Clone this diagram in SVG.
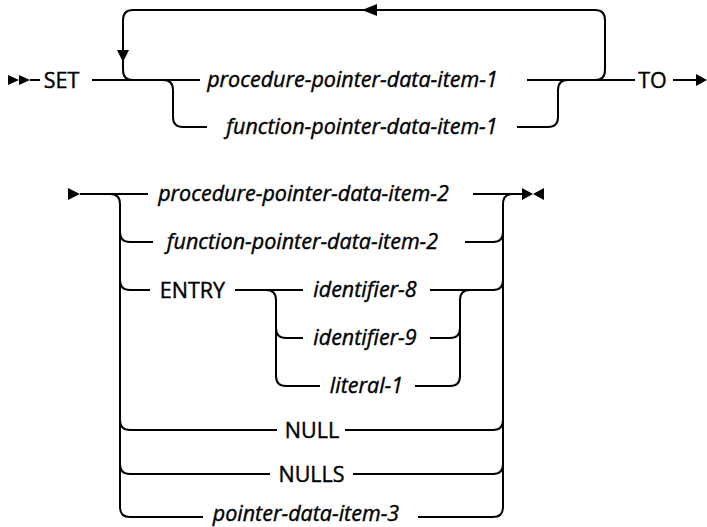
<svg xmlns="http://www.w3.org/2000/svg" width="707" height="527" viewBox="0 0 707 527">
<style>
  .ln{fill:none;stroke:#000;stroke-width:2}
  .ah{fill:#000;stroke:none}
  text{font-family:"Open Sans","DejaVu Sans",sans-serif;font-size:21.5px;font-weight:500;fill:#000;stroke:#000;stroke-width:0.4;text-anchor:middle}
  .v{font-style:italic}
</style>
<rect width="707" height="527" fill="#fff"/>
<g id="connectors">
  <!-- top block -->
  <path class="ln" d="M30 80 H40"/>
  <path class="ln" d="M92 80 H200"/>
  <path class="ln" d="M527 80 H635"/>
  <path class="ln" d="M595 80 Q605 80 605 70 V20 Q605 10 595 10 H133 Q123 10 123 20 V70 Q123 80 133 80"/>
  <path class="ln" d="M163 80 Q173 80 173 90 V117 Q173 127 183 127 H207"/>
  <path class="ln" d="M517 127 H548 Q558 127 558 117 V90 Q558 80 568 80"/>
  <path class="ln" d="M673 80 H698"/>
  <!-- bottom block -->
  <path class="ln" d="M80 194 H148"/>
  <path class="ln" d="M473 194 H522"/>
  <path class="ln" d="M110 194 Q120 194 120 204 V507 Q120 517 130 517 H203"/>
  <path class="ln" d="M120 232 Q120 242 130 242 H153"/>
  <path class="ln" d="M120 280 Q120 290 130 290 H150"/>
  <path class="ln" d="M120 420 Q120 430 130 430 H277"/>
  <path class="ln" d="M120 464 Q120 474 130 474 H270"/>
  <path class="ln" d="M513 194 Q503 194 503 204 V507 Q503 517 493 517 H418"/>
  <path class="ln" d="M465 242 H493 Q503 242 503 232"/>
  <path class="ln" d="M430 290 H493 Q503 290 503 280"/>
  <path class="ln" d="M345 430 H493 Q503 430 503 420"/>
  <path class="ln" d="M353 474 H493 Q503 474 503 464"/>
  <path class="ln" d="M235 290 H303"/>
  <path class="ln" d="M266 290 Q276 290 276 300 V376 Q276 386 286 386 H320"/>
  <path class="ln" d="M276 328 Q276 338 286 338 H303"/>
  <path class="ln" d="M470 290 Q460 290 460 300 V376 Q460 386 450 386 H415"/>
  <path class="ln" d="M430 338 H450 Q460 338 460 328"/>
  <!-- arrowheads -->
  <path class="ah" d="M8 75 L19 80 L8 85 Z M19 75 L30 80 L19 85 Z"/>
  <path class="ah" d="M117 50 L129 50 L123 62 Z"/>
  <path class="ah" d="M377 4 L377 16 L362 10 Z"/>
  <path class="ah" d="M696 74 L707 80 L696 86 Z"/>
  <path class="ah" d="M68 188 L80 194 L68 200 Z"/>
  <path class="ah" d="M522 188 L533 194 L522 200 Z M544 188 L533 194 L544 200 Z"/>
</g>
<g id="n-set"><text x="61.5" y="88">SET</text></g>
<g id="n-proc1"><text class="v" x="352.5" y="87">procedure-pointer-data-item-1</text></g>
<g id="n-func1"><text class="v" x="362" y="134">function-pointer-data-item-1</text></g>
<g id="n-to"><text x="652.5" y="88">TO</text></g>
<g id="n-proc2"><text class="v" x="303.5" y="201">procedure-pointer-data-item-2</text></g>
<g id="n-func2"><text class="v" x="302.5" y="249">function-pointer-data-item-2</text></g>
<g id="n-entry"><text x="192.5" y="298">ENTRY</text></g>
<g id="n-id8"><text class="v" x="365" y="297">identifier-8</text></g>
<g id="n-id9"><text class="v" x="365" y="345">identifier-9</text></g>
<g id="n-lit1"><text class="v" x="366.5" y="393">literal-1</text></g>
<g id="n-null"><text x="312" y="438">NULL</text></g>
<g id="n-nulls"><text x="311.5" y="482">NULLS</text></g>
<g id="n-ptr3"><text class="v" x="306" y="521">pointer-data-item-3</text></g>
</svg>
